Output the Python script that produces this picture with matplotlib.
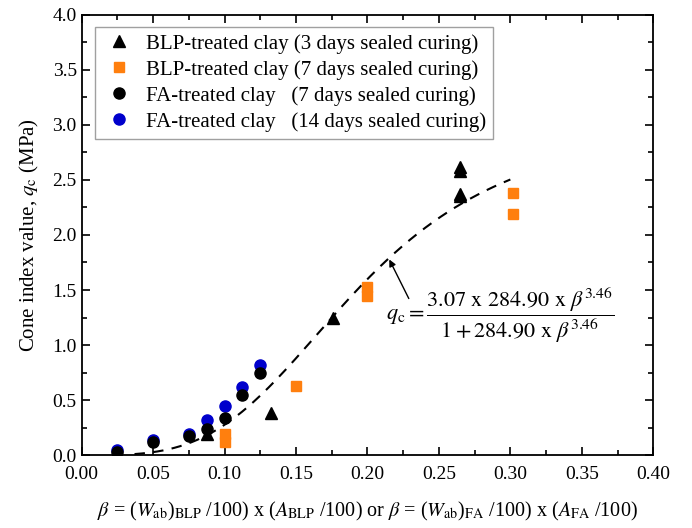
import numpy as np
import matplotlib
matplotlib.use("Agg")
import matplotlib.pyplot as plt
from matplotlib.ticker import MultipleLocator

plt.rcParams['font.family'] = ['Liberation Serif', 'DejaVu Serif']
plt.rcParams['mathtext.fontset'] = 'stix'

# BLP-treated clay, 3 days
blp3_x = [0.0875, 0.1325, 0.176, 0.265, 0.265, 0.265, 0.265]
blp3_y = [0.19, 0.38, 1.25, 2.58, 2.62, 2.35, 2.37]
# BLP-treated clay, 7 days
blp7_x = [0.10, 0.10, 0.15, 0.20, 0.20, 0.302, 0.302]
blp7_y = [0.12, 0.19, 0.63, 1.45, 1.53, 2.38, 2.19]
# FA-treated clay, 7 days
fa7_x = [0.025, 0.05, 0.075, 0.0875, 0.10, 0.1125, 0.125]
fa7_y = [0.03, 0.12, 0.17, 0.24, 0.34, 0.55, 0.75]
# FA-treated clay, 14 days
fa14_x = [0.025, 0.05, 0.075, 0.0875, 0.10, 0.1125, 0.125]
fa14_y = [0.05, 0.14, 0.19, 0.32, 0.45, 0.62, 0.82]

# fitted model
a_fit, b_fit, n_fit = 3.07, 284.90, 3.46
beta = np.linspace(0.037, 0.30, 200)
qc = a_fit * b_fit * beta**n_fit / (1 + b_fit * beta**n_fit)

fig = plt.figure(figsize=(6.92, 5.28), dpi=100)
ax = fig.add_axes([0.118, 0.138, 0.826, 0.834])

ax.plot(beta, qc, '--', color='black', lw=1.5, dashes=(5, 4), zorder=2)
ax.plot(blp3_x, blp3_y, '^', color='black', ms=8, ls='none',
        label='BLP-treated clay (3 days sealed curing)', zorder=4)
ax.plot(blp7_x, blp7_y, 's', color='#ff7f0e', ms=7.5, ls='none',
        label='BLP-treated clay (7 days sealed curing)', zorder=3)
ax.plot(fa7_x, fa7_y, 'o', color='black', ms=8, ls='none',
        label='FA-treated clay   (7 days sealed curing)', zorder=4)
ax.plot(fa14_x, fa14_y, 'o', color='#0000cc', ms=8, ls='none',
        label='FA-treated clay   (14 days sealed curing)', zorder=3)

ax.set_xlim(0, 0.40)
ax.set_ylim(0, 4.0)
ax.xaxis.set_major_locator(MultipleLocator(0.05))
ax.xaxis.set_minor_locator(MultipleLocator(0.025))
ax.yaxis.set_major_locator(MultipleLocator(0.5))
ax.yaxis.set_minor_locator(MultipleLocator(0.25))
ax.xaxis.set_major_formatter(matplotlib.ticker.FormatStrFormatter('%.2f'))
ax.yaxis.set_major_formatter(matplotlib.ticker.FormatStrFormatter('%.1f'))
ax.tick_params(which='both', direction='in', top=True, right=True, labelsize=14, width=1.2)
ax.tick_params(which='major', length=6)
ax.tick_params(which='minor', length=3.5)
ax.tick_params(axis='x', pad=8)
for s in ax.spines.values():
    s.set_linewidth(1.3)

ax.set_ylabel(r'Cone index value, $q_{\rm c}$ (MPa)', fontsize=15, labelpad=8)
ax.set_xlabel(r'$\beta$ = ($W_{\rm ab}$)$_{\rm BLP}$ /100) x ($A_{\rm BLP}$ /100) or '
              r'$\beta$ = ($W_{\rm ab}$)$_{\rm FA}$ /100) x ($A_{\rm FA}$ /100)',
              fontsize=14.5, labelpad=12)

ax.annotate('', xy=(0.2144, 1.80), xytext=(0.2298, 1.40),
            arrowprops=dict(arrowstyle='-|>', color='black', lw=1, mutation_scale=10))
ax.text(0.293, 1.27,
        r'$q_{\rm c} = \dfrac{3.07\ \mathrm{x}\ 284.90\ \mathrm{x}\ \beta^{3.46}}{1 + 284.90\ \mathrm{x}\ \beta^{3.46}}$',
        fontsize=16, ha='center', va='center')

leg = ax.legend(loc='upper left', fontsize=15, frameon=True, fancybox=False,
                edgecolor='#888888', handletextpad=0.5, borderpad=0.35,
                labelspacing=0.3, handlelength=1.6, borderaxespad=0,
                bbox_to_anchor=(0.023, 0.973))
leg.get_frame().set_linewidth(1.0)

fig.savefig('out.png', dpi=100)
